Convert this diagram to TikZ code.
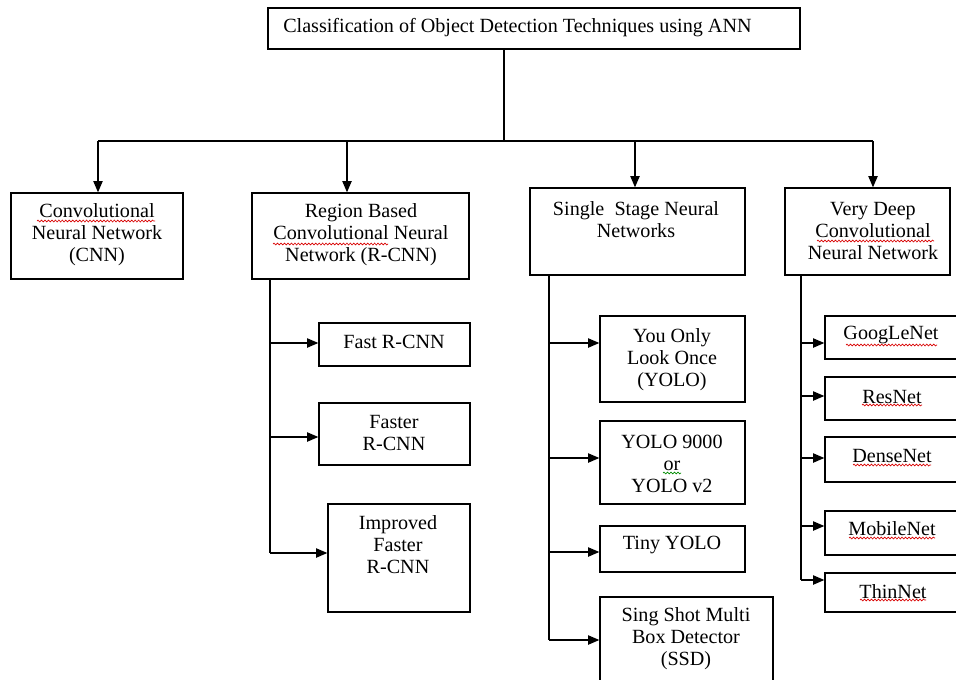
\documentclass[tikz,border=0pt]{standalone}
\usepackage{fontspec}
\setmainfont{Liberation Serif}
\usetikzlibrary{arrows.meta,fit,decorations.pathmorphing}
\newcommand{\rbox}[8]{%
  \node[boxst,fit={(#2,#3)(#4,#5)}] (#1) {};
  \node[txt] (#1t) at (#6,#7) {#8};}
\begin{document}
\begin{tikzpicture}[x=0.75pt,y=-0.75pt,
  boxst/.style={draw=black,line width=1pt,inner sep=0pt},
  txt/.style={align=center,font=\fontsize{15.1pt}{16.5pt}\selectfont,inner sep=0pt},
  ln/.style={line width=1pt},
  arr/.style={line width=1pt,-{Triangle[length=8.5pt,width=7pt]}},
  sq/.style={red!85!black,line width=0.5pt,decorate,decoration={snake,amplitude=0.7pt,segment length=2.6pt}},
  sqg/.style={sq,draw=green!55!black}]
\useasboundingbox (0,0) rectangle (956,679);
\clip (0,0) rectangle (956,679);
\fill[white] (0,0) rectangle (956,679);
% title
\node[boxst,fit={(268,8)(800,49)}] (title) {};
\node[txt,anchor=west] (titlet) at (283,28) {Classification of Object Detection Techniques using ANN};
% main categories
\rbox{cnn}{11}{193}{183}{279}{97}{235}{Convolutional\\Neural Network\\(CNN)}
\rbox{rcnn}{252}{193}{469}{279}{361}{235}{Region Based\\Convolutional Neural\\Network (R-CNN)}
\rbox{ssnn}{530}{188}{745}{275}{636}{220}{Single~~Stage Neural\\Networks}
\rbox{vdcnn}{785}{188}{950}{275}{873}{231}{Very Deep\\Convolutional\\Neural Network}
% R-CNN family
\rbox{fast}{319}{323}{470}{366}{394}{342}{Fast R-CNN}
\rbox{faster}{319}{403}{470}{465}{394}{433}{Faster\\R-CNN}
\rbox{impr}{328}{504}{470}{612}{398}{545}{Improved\\Faster\\R-CNN}
% single stage family
\rbox{yolo}{600}{316}{745}{402}{672}{360}{You Only\\Look Once\\(YOLO)}
\rbox{yolo2}{600}{421}{745}{504}{672}{464}{YOLO 9000\\or\\YOLO v2}
\rbox{tiny}{600}{526}{745}{572}{672}{545}{Tiny YOLO}
\rbox{ssd}{600}{597}{773}{700}{686}{639}{Sing Shot Multi\\Box Detector\\(SSD)}
% very deep family
\rbox{goog}{825}{316}{970}{359}{891}{335}{GoogLeNet}
\rbox{res}{825}{377}{970}{420}{892}{397}{ResNet}
\rbox{dense}{825}{437}{970}{482}{892}{456}{DenseNet}
\rbox{mobile}{825}{511}{970}{555}{892}{529}{MobileNet}
\rbox{thin}{825}{573}{970}{612}{893}{592}{ThinNet}
% top connectors
\coordinate (hub) at (504,141);
\coordinate (j1) at (98,141);
\coordinate (j2) at (347,141);
\coordinate (j3) at (635,141);
\coordinate (j4) at (873,141);
\draw[ln] (title.south -| hub) -- (hub);
\draw[ln] (j1) -- (j4);
\draw[arr] (j1) -- (j1 |- cnn.north);
\draw[arr] (j2) -- (j2 |- rcnn.north);
\draw[arr] (j3) -- (j3 |- ssnn.north);
\draw[arr] (j4) -- (j4 |- vdcnn.north);
% R-CNN column
\coordinate (rb) at (270,553);
\draw[ln] (rb |- rcnn.south) -- (rb);
\coordinate (ra1) at (270,343);
\coordinate (ra2) at (270,437);
\draw[arr] (ra1) -- (ra1 -| fast.west);
\draw[arr] (ra2) -- (ra2 -| faster.west);
\draw[arr] (rb) -- (rb -| impr.west);
% single stage column
\coordinate (sb) at (549,640);
\draw[ln] (sb |- ssnn.south) -- (sb);
\coordinate (sa1) at (549,343);
\coordinate (sa2) at (549,458);
\coordinate (sa3) at (549,552);
\draw[arr] (sa1) -- (sa1 -| yolo.west);
\draw[arr] (sa2) -- (sa2 -| yolo2.west);
\draw[arr] (sa3) -- (sa3 -| tiny.west);
\draw[arr] (sb) -- (sb -| ssd.west);
% very deep column
\coordinate (vb) at (801,580);
\draw[ln] (vb |- vdcnn.south) -- (vb);
\coordinate (va1) at (801,343);
\coordinate (va2) at (801,396);
\coordinate (va3) at (801,458);
\coordinate (va4) at (801,526);
\draw[arr] (va1) -- (va1 -| goog.west);
\draw[arr] (va2) -- (va2 -| res.west);
\draw[arr] (va3) -- (va3 -| dense.west);
\draw[arr] (va4) -- (va4 -| mobile.west);
\draw[arr] (vb) -- (vb -| thin.west);
% spell-check squiggles
\draw[sq] (37,221) -- (155,221);
\draw[sq] (273,244) -- (388,244);
\draw[sq] (817,241) -- (934,241);
\draw[sq] (846,345) -- (937,345);
\draw[sq] (862,405) -- (922,405);
\draw[sq] (853,465) -- (931,465);
\draw[sq] (849,538) -- (935,538);
\draw[sq] (860,600) -- (926,600);
\draw[sqg] (663,473) -- (681,473);
\end{tikzpicture}
\end{document}
